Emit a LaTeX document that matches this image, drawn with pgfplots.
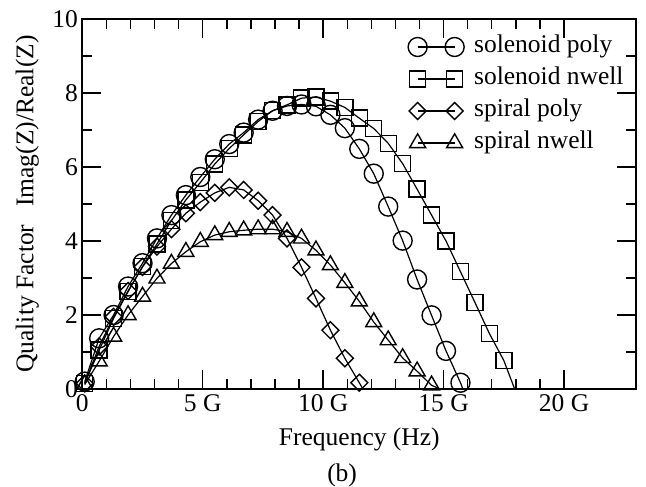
\documentclass[border=0pt]{standalone}
\usepackage{fontspec}
\setmainfont{Liberation Serif}
\usepackage{pgfplots}
\usepackage{pgfplotstable}
\pgfplotsset{compat=1.18}

\pgfplotstableread{
f q
0.1 0.20
0.7 1.37
1.3 2.00
1.9 2.77
2.5 3.40
3.1 4.07
3.7 4.70
4.3 5.24
4.9 5.73
5.5 6.21
6.1 6.62
6.7 6.93
7.3 7.28
7.9 7.52
8.5 7.65
9.1 7.69
9.7 7.64
10.3 7.41
10.9 7.05
11.5 6.49
12.1 5.82
12.7 4.93
13.3 4.01
13.9 2.96
14.5 1.99
15.1 1.03
15.7 0.17
15.8 0.00
}\solpoly

\pgfplotstableread{
f q
0.1 0.15
0.7 1.05
1.3 1.91
1.9 2.63
2.5 3.31
3.1 3.92
3.7 4.55
4.3 5.11
4.9 5.58
5.5 6.08
6.1 6.50
6.7 6.87
7.3 7.23
7.9 7.52
8.5 7.68
9.1 7.86
9.7 7.89
10.3 7.78
10.9 7.61
11.5 7.32
12.1 7.04
12.7 6.64
13.3 6.09
13.9 5.40
14.5 4.70
15.1 4.00
15.7 3.17
16.3 2.34
16.9 1.50
17.5 0.77
17.95 0.00
}\solnwell

\pgfplotstableread{
f q
0.1 0.15
0.7 1.15
1.3 1.95
1.9 2.65
2.5 3.30
3.1 3.85
3.7 4.32
4.3 4.75
4.9 5.05
5.5 5.30
6.1 5.45
6.7 5.38
7.3 5.09
7.9 4.70
8.5 4.07
9.1 3.29
9.7 2.45
10.3 1.59
10.9 0.83
11.5 0.17
11.65 0.00
}\spipoly

\pgfplotstableread{
f q
0.1 0.12
0.7 0.75
1.3 1.42
1.9 2.00
2.5 2.50
3.1 2.99
3.7 3.39
4.3 3.71
4.9 3.98
5.5 4.16
6.1 4.25
6.7 4.29
7.3 4.32
7.9 4.32
8.5 4.25
9.1 4.07
9.7 3.75
10.3 3.35
10.9 2.87
11.5 2.37
12.1 1.81
12.7 1.32
13.3 0.84
13.9 0.48
14.5 0.10
14.85 0.00
}\spinwell

\begin{document}
\begin{tikzpicture}
\begin{axis}[
  width=554pt, height=370pt, scale only axis,
  xmin=0, xmax=23, ymin=0, ymax=10,
  xtick={0,5,10,15,20}, xticklabels={0,5 G,10 G,15 G,20 G},
  minor x tick num=4,
  ytick={0,2,4,6,8,10}, yticklabels={0,2,4,6,8,10},
  minor y tick num=1,
  tick align=inside,
  major tick length=19pt, minor tick length=10pt,
  axis line style={line width=1.7pt},
  tick style={line width=1.4pt, black},
  font=\fontsize{25.5}{30}\selectfont,
  xticklabel style={yshift=-2pt},
  yticklabel style={xshift=-1pt},
  xlabel={Frequency (Hz)},
  ylabel={Quality Factor\hspace{0.45em} Imag(Z)/Real(Z)},
  xlabel style={at={(axis description cs:0.5,-0.1514)}, anchor=base},
  ylabel style={at={(axis description cs:-0.0885,0.5)}, anchor=base},
  clip=false,
  legend cell align=left,
  legend style={draw=none, fill=none, at={(axis description cs:0.586,0.960)}, anchor=north west,
    inner sep=0pt, row sep=6pt, nodes={inner sep=1pt, text height=18pt, text depth=6pt}},
]
\addplot[black, line width=1.2pt, forget plot] table[x=f,y=q] {\solpoly};
\addplot[black, only marks, mark=o, mark size=9.5pt, mark options={line width=1.4pt},
  skip coords between index={27}{28},
  legend image code/.code={\path[draw=none, fill=none] (-10.5pt,-10pt) rectangle (55.5pt,10pt);
    \draw[line width=1.2pt] (0pt,0pt) -- (37pt,0pt);
    \draw[line width=1.4pt, mark=o, mark size=9.5pt] plot[only marks] coordinates {(0pt,0pt) (37pt,0pt)};}
  ] table[x=f,y=q] {\solpoly};
\addlegendentry{solenoid poly}

\addplot[black, line width=1.2pt, forget plot] table[x=f,y=q] {\solnwell};
\addplot[black, only marks, mark=square, mark size=8pt, mark options={line width=1.4pt},
  skip coords between index={30}{31},
  legend image code/.code={\path[draw=none, fill=none] (-10.5pt,-10pt) rectangle (55.5pt,10pt);
    \draw[line width=1.2pt] (0pt,0pt) -- (37pt,0pt);
    \draw[line width=1.4pt, mark=square, mark size=8pt] plot[only marks] coordinates {(0pt,0pt) (37pt,0pt)};}
  ] table[x=f,y=q] {\solnwell};
\addlegendentry{solenoid nwell}

\addplot[black, line width=1.2pt, forget plot] table[x=f,y=q] {\spipoly};
\addplot[black, only marks, mark=square, mark size=6pt, mark options={line width=1.4pt, rotate=45},
  skip coords between index={20}{21},
  legend image code/.code={\path[draw=none, fill=none] (-10.5pt,-10pt) rectangle (55.5pt,10pt);
    \draw[line width=1.2pt] (0pt,0pt) -- (37pt,0pt);
    \draw[line width=1.4pt, mark=square, mark size=6pt, mark options={rotate=45}] plot[only marks] coordinates {(0pt,0pt) (37pt,0pt)};}
  ] table[x=f,y=q] {\spipoly};
\addlegendentry{spiral poly}

\addplot[black, line width=1.2pt, forget plot] table[x=f,y=q] {\spinwell};
\addplot[black, only marks, mark=triangle, mark size=9.2pt, mark options={line width=1.4pt},
  skip coords between index={25}{26},
  legend image code/.code={\path[draw=none, fill=none] (-10.5pt,-10pt) rectangle (55.5pt,10pt);
    \draw[line width=1.2pt] (0pt,0pt) -- (37pt,0pt);
    \draw[line width=1.4pt, mark=triangle, mark size=9.2pt] plot[only marks] coordinates {(0pt,0pt) (37pt,0pt)};}
  ] table[x=f,y=q] {\spinwell};
\addlegendentry{spiral nwell}

\node[anchor=base, font=\fontsize{25.5}{30}\selectfont] at (rel axis cs:0.469,0) [yshift=-93pt] {(b)};
\end{axis}
\pgfresetboundingbox
\path[use as bounding box] (-82.3pt,-98pt) rectangle (563.7pt,389pt);
\end{tikzpicture}
\end{document}
